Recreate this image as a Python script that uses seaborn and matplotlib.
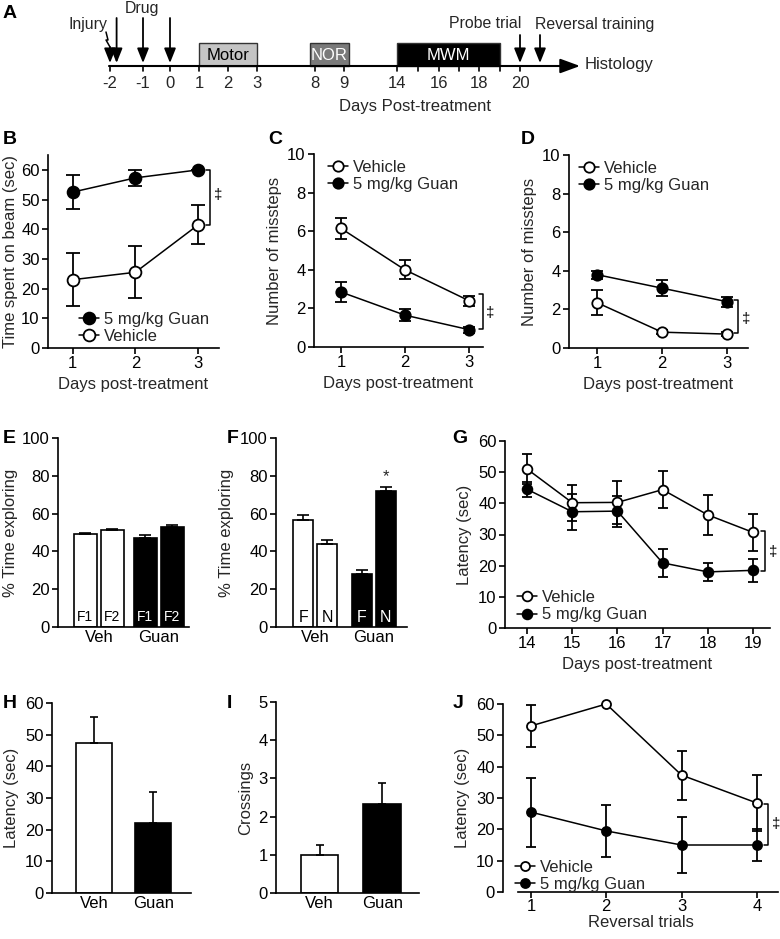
import numpy as np
import pandas as pd
import matplotlib
matplotlib.use("Agg")
import matplotlib.pyplot as plt
from matplotlib.patches import Rectangle
import seaborn as sns

# ---------------- data ----------------
# A: experimental timeline
tl_days = [-2, -1, 0, 1, 2, 3, 8, 9, 14, 16, 18, 20]
tl_labels = ["-2", "-1", "0", "1", "2", "3", "8", "9", "14", "16", "18", "20"]
tl_minor_days = [15, 17, 19]
phase_names = ["Motor", "NOR", "MWM"]
phase_start = [1, 8, 14]
phase_end = [3, 9, 19]
injury_days = [-2, -1.8]
drug_days = [-1, 0]
probe_day = 20
reversal_day = 21

# B: beam time
days_B = [1, 2, 3]
guan_B = [52.5, 57.3, 60.0]
guan_B_err = [5.8, 2.8, 0.0]
veh_B = [23.0, 25.5, 41.5]
veh_B_err = [9.0, 8.7, 6.5]

# C: missteps
days_C = [1, 2, 3]
veh_C = [6.15, 4.0, 2.4]
veh_C_err = [0.55, 0.5, 0.25]
guan_C = [2.85, 1.65, 0.9]
guan_C_err = [0.5, 0.3, 0.15]

# D: missteps
days_D = [1, 2, 3]
guan_D = [3.8, 3.1, 2.4]
guan_D_err = [0.2, 0.4, 0.25]
veh_D = [2.35, 0.82, 0.72]
veh_D_err = [0.65, 0.1, 0.1]

# E: NOR familiarisation
E_groups = ["Veh", "Veh", "Guan", "Guan"]
E_objects = ["F1", "F2", "F1", "F2"]
E_vals = [49.2, 51.2, 47.3, 53.0]
E_err = [0.6, 0.7, 1.3, 1.2]

# F: NOR test
F_groups = ["Veh", "Veh", "Guan", "Guan"]
F_objects = ["F", "N", "F", "N"]
F_vals = [56.5, 43.7, 28.3, 72.0]
F_err = [2.5, 2.3, 2.0, 2.0]

# G: MWM latency
days_G = [14, 15, 16, 17, 18, 19]
veh_G = [51.0, 40.2, 40.3, 44.4, 36.3, 30.7]
veh_G_err = [4.8, 5.8, 6.8, 6.0, 6.5, 6.0]
guan_G = [44.5, 37.3, 37.5, 20.9, 18.0, 18.5]
guan_G_err = [2.4, 5.8, 5.0, 4.4, 2.9, 3.6]

# H: probe latency
H_groups = ["Veh", "Guan"]
H_vals = [47.3, 22.0]
H_err = [8.3, 9.8]

# I: crossings
I_groups = ["Veh", "Guan"]
I_vals = [1.0, 2.33]
I_err = [0.25, 0.55]

# J: reversal
trials_J = [1, 2, 3, 4]
veh_J = [53.0, 60.0, 37.3, 28.4]
veh_J_err = [6.8, 0.0, 7.8, 9.0]
guan_J = [25.5, 19.5, 15.0, 15.0]
guan_J_err = [11.0, 8.4, 9.0, 5.0]

# ---------------- style ----------------
sns.set_theme(style="ticks")
plt.rcParams["font.family"] = ["Liberation Sans", "DejaVu Sans"]
plt.rcParams["axes.linewidth"] = 1.2
FS = 12
FSA = 11.4

W, H = 780, 939
fig = plt.figure(figsize=(W / 100, H / 100), dpi=100)
fig.patch.set_facecolor("white")


def ax_box(l, t, r, b):
    return fig.add_axes([l / W, 1 - b / H, (r - l) / W, (b - t) / H])


def style(ax):
    sns.despine(ax=ax)
    for s in ("left", "bottom"):
        ax.spines[s].set_linewidth(1.2)
        ax.spines[s].set_color("black")
    ax.tick_params(direction="out", length=4, width=1.2, labelsize=FS, pad=2,
                   color="black", labelcolor="black")
    ax.set_facecolor("white")
    ax.grid(False)


def line_panel(ax, x, series, ms, capsize):
    for label, y, err, filled in series:
        df = pd.DataFrame({"x": x, "y": y})
        ax.errorbar(x, y, yerr=err, fmt="none", ecolor="black", elinewidth=1.3,
                    capsize=capsize, capthick=1.3, zorder=2)
        sns.lineplot(data=df, x="x", y="y", ax=ax, color="black", linewidth=1.1,
                     marker="o", markersize=ms,
                     markerfacecolor="black" if filled else "white",
                     markeredgecolor="black", markeredgewidth=1.3,
                     label=label, zorder=3, errorbar=None, clip_on=False)


def legend(ax, loc, anchor):
    ax.legend(loc=loc, bbox_to_anchor=anchor, frameon=False, fontsize=FS,
              handlelength=1.2, handletextpad=0.3, borderpad=0, borderaxespad=0,
              labelspacing=0.15)


def bracket(ax, x, y1, y2, w, tx, ty):
    ax.plot([x - w, x, x, x - w], [y1, y1, y2, y2], color="black", lw=1.1,
            clip_on=False, zorder=4)
    ax.text(tx, ty, "\u2021", ha="center", va="center", fontsize=11,
            clip_on=False, color="black")


def grouped_bars(ax, groups, objs, vals, errs, width, gap, label_fs, label_y):
    df = pd.DataFrame({"group": groups, "obj": objs, "val": vals, "err": errs})
    g_order = list(dict.fromkeys(groups))
    o_order = list(dict.fromkeys(objs))
    sns.barplot(data=df, x="group", y="val", hue="obj", ax=ax, width=width, gap=gap,
                errorbar=None, legend=False, edgecolor="black", linewidth=1.2,
                palette=["white", "white"], saturation=1, order=g_order,
                hue_order=o_order)
    for p in list(ax.patches):
        c = p.get_x() + p.get_width() / 2
        gi = int(round(c))
        oi = 0 if c < gi else 1
        row = df[(df.group == g_order[gi]) & (df.obj == o_order[oi])].iloc[0]
        filled = g_order[gi] == "Guan"
        p.set_facecolor("black" if filled else "white")
        ax.errorbar(c, row.val, yerr=[[0], [row.err]], fmt="none", ecolor="black",
                    elinewidth=1.2, capsize=4, capthick=1.2, zorder=1)
        ax.text(c, label_y, row.obj, ha="center", va="bottom", fontsize=label_fs,
                color="white" if filled else "black")
    return df


def single_bars(ax, groups, vals, errs, width):
    df = pd.DataFrame({"group": groups, "val": vals, "err": errs})
    sns.barplot(data=df, x="group", y="val", hue="group", ax=ax, width=width,
                errorbar=None, legend=False, edgecolor="black", linewidth=1.2,
                palette=["white", "black"], saturation=1, order=groups,
                hue_order=groups)
    for p in list(ax.patches):
        c = p.get_x() + p.get_width() / 2
        gi = int(round(c))
        row = df.iloc[gi]
        ax.errorbar(c, row.val, yerr=[[0], [row.err]], fmt="none", ecolor="black",
                    elinewidth=1.2, capsize=3, capthick=1.2, zorder=1)


def panel_letter(x, y, s):
    fig.text(x / W, 1 - y / H, s, fontsize=14, fontweight="bold", ha="left",
             va="center", color="black")


# ---------------- A: timeline ----------------
# layout mapping of (broken) day axis to pixel positions
TL_DAY = [-2, -1, 0, 1, 2, 3, 8, 9, 14, 15, 16, 17, 18, 19, 20, 21]
TL_PX = [110, 143, 170, 199, 228, 257, 315, 344, 397, 418, 439, 459, 479, 500, 520, 540]


def dpx(d):
    return float(np.interp(d, TL_DAY, TL_PX))


axA = ax_box(0, 0, 780, 120)
axA.set_xlim(0, 780)
axA.set_ylim(120, 0)
axA.axis("off")
AXY = 66
axA.annotate("", xy=(580, AXY), xytext=(dpx(-2) - 1, AXY),
             arrowprops=dict(arrowstyle="-|>,head_length=0.6,head_width=0.22",
                             lw=1.5, color="black", mutation_scale=20,
                             shrinkA=0, shrinkB=0))
for d, lab in zip(tl_days, tl_labels):
    axA.plot([dpx(d), dpx(d)], [AXY, AXY + 5], color="black", lw=1.2)
    axA.text(dpx(d), 83, lab, ha="center", va="center", fontsize=FSA + 0.6)
for d in tl_minor_days:
    axA.plot([dpx(d), dpx(d)], [AXY, AXY + 5], color="black", lw=1.2)
box_fc = ["#c4c4c4", "#7a7a7a", "black"]
box_tc = ["black", "white", "white"]
box_pad = [0, 5, 0]
for name, s, e, fc, tc, pad in zip(phase_names, phase_start, phase_end, box_fc, box_tc, box_pad):
    x0, x1 = dpx(s) - pad, dpx(e) + pad
    axA.add_patch(Rectangle((x0, 43), x1 - x0, AXY - 43, facecolor=fc,
                            edgecolor="#333333", lw=1.0, zorder=2))
    axA.text((x0 + x1) / 2, 55, name, ha="center", va="center", fontsize=FSA + 0.6,
             color=tc, zorder=3)

arrow_kw = dict(arrowstyle="-|>,head_length=0.55,head_width=0.22", lw=1.3,
                color="black", mutation_scale=16, shrinkA=0, shrinkB=0)
# injury arrows (first with lightning symbol)
axA.annotate("", xy=(dpx(injury_days[0]), 63), xytext=(dpx(injury_days[0]), 47),
             arrowprops=arrow_kw)
zx = dpx(injury_days[0])
axA.plot([zx - 4, zx - 2, zx - 4, zx], [32, 40, 40, 47], color="black", lw=1.1)
axA.annotate("", xy=(dpx(injury_days[1]), 63), xytext=(dpx(injury_days[1]), 18),
             arrowprops=arrow_kw)
for d in drug_days:
    axA.annotate("", xy=(dpx(d), 63), xytext=(dpx(d), 18), arrowprops=arrow_kw)
for d in (probe_day, reversal_day):
    axA.annotate("", xy=(dpx(d), 63), xytext=(dpx(d), 35), arrowprops=arrow_kw)
axA.text(88, 25, "Injury", ha="center", va="center", fontsize=FSA)
axA.text(142, 8, "Drug", ha="center", va="center", fontsize=FSA)
axA.text(dpx(probe_day) - 35, 24, "Probe trial", ha="center", va="center", fontsize=FSA)
axA.text(dpx(reversal_day) + 55, 24, "Reversal training", ha="center", va="center", fontsize=FSA)
axA.text(585, AXY - 1, "Histology", ha="left", va="center", fontsize=FSA + 0.6)
axA.text(415, 107, "Days Post-treatment", ha="center", va="center", fontsize=FSA + 0.6)

# ---------------- B ----------------
axB = ax_box(48, 155, 219, 348)
line_panel(axB, days_B, [("5 mg/kg Guan", guan_B, guan_B_err, True),
                         ("Vehicle", veh_B, veh_B_err, False)], ms=8.5, capsize=5)
axB.set_xlim(0.61, 3.33)
axB.set_ylim(0, 65)
axB.set_yticks(range(0, 61, 10))
axB.set_xticks(days_B)
axB.set_xlabel("Days post-treatment", fontsize=FS)
axB.set_ylabel("Time spent on beam (sec)", fontsize=FS, labelpad=2)
style(axB)
legend(axB, "lower left", (0.18, 0.02))
bracket(axB, 3.19, guan_B[2], veh_B[2], 0.07, 3.31, 51.6)

# ---------------- C ----------------
axC = ax_box(314, 154, 483, 347)
line_panel(axC, days_C, [("Vehicle", veh_C, veh_C_err, False),
                         ("5 mg/kg Guan", guan_C, guan_C_err, True)], ms=7.5, capsize=4)
axC.set_xlim(0.58, 3.22)
axC.set_ylim(0, 10)
axC.set_yticks(range(0, 11, 2))
axC.set_xticks(days_C)
axC.set_xlabel("Days post-treatment", fontsize=FS)
axC.set_ylabel("Number of missteps", fontsize=FS)
style(axC)
legend(axC, "upper left", (0.083, 0.97))
bracket(axC, 3.22, 2.75, 0.93, 0.06, 3.34, 1.75)

# ---------------- D ----------------
axD = ax_box(569, 155, 748, 348)
line_panel(axD, days_D, [("Vehicle", veh_D, veh_D_err, False),
                         ("5 mg/kg Guan", guan_D, guan_D_err, True)], ms=7.5, capsize=4)
axD.set_xlim(0.57, 3.32)
axD.set_ylim(0, 10)
axD.set_yticks(range(0, 11, 2))
axD.set_xticks(days_D)
axD.set_xlabel("Days post-treatment", fontsize=FS)
axD.set_ylabel("Number of missteps", fontsize=FS)
style(axD)
legend(axD, "upper left", (0.056, 0.97))
bracket(axD, 3.17, 2.49, 0.78, 0.07, 3.29, 1.5)

# ---------------- E ----------------
axE = ax_box(58, 438, 189, 627)
grouped_bars(axE, E_groups, E_objects, E_vals, E_err, width=0.9, gap=0.155,
             label_fs=10, label_y=1.5)
axE.set_xlim(-0.68, 1.5)
axE.set_ylim(0, 100)
axE.set_yticks(range(0, 101, 20))
axE.set_xlabel("")
axE.set_ylabel("% Time exploring", fontsize=FS, labelpad=3)
style(axE)
axE.tick_params(axis="x", length=0)

# ---------------- F ----------------
axF = ax_box(276, 438, 407, 627)
grouped_bars(axF, F_groups, F_objects, F_vals, F_err, width=0.82, gap=0.17,
             label_fs=11.5, label_y=1.0)
axF.text(1.205, F_vals[3] + F_err[3] + 1.5, "*", ha="center", va="bottom", fontsize=12)
axF.set_xlim(-0.67, 1.57)
axF.set_ylim(0, 100)
axF.set_yticks(range(0, 101, 20))
axF.set_xlabel("")
axF.set_ylabel("% Time exploring", fontsize=FS)
style(axF)
axF.tick_params(axis="x", length=0)

# ---------------- G ----------------
axG = ax_box(505, 441, 770, 628)
line_panel(axG, days_G, [("Vehicle", veh_G, veh_G_err, False),
                         ("5 mg/kg Guan", guan_G, guan_G_err, True)], ms=7, capsize=3.3)
axG.set_xlim(13.51, 19.38)
axG.set_ylim(0, 60)
axG.set_yticks(range(0, 61, 10))
axG.set_xticks(days_G)
axG.set_xlabel("Days post-treatment", fontsize=FS)
axG.set_ylabel("Latency (sec)", fontsize=FS)
style(axG)
legend(axG, "lower left", (0.045, 0.03))
bracket(axG, 19.27, 31.1, 18.4, 0.1, 19.45, 24.4)

# ---------------- H ----------------
axH = ax_box(52, 703, 191, 893)
single_bars(axH, H_groups, H_vals, H_err, width=0.61)
axH.set_xlim(-0.72, 1.64)
axH.set_ylim(0, 60)
axH.set_yticks(range(0, 61, 10))
axH.set_xlabel("")
axH.set_ylabel("Latency (sec)", fontsize=FS)
style(axH)
axH.tick_params(axis="x", length=0)

# ---------------- I ----------------
axI = ax_box(276, 702, 419, 893)
single_bars(axI, I_groups, I_vals, I_err, width=0.6)
axI.set_xlim(-0.7, 1.59)
axI.set_ylim(0, 5)
axI.set_yticks(range(0, 6))
axI.set_xlabel("")
axI.set_ylabel("Crossings", fontsize=FS)
style(axI)
axI.tick_params(axis="x", length=0)

# ---------------- J ----------------
axJ = ax_box(503, 704, 778, 892)
line_panel(axJ, trials_J, [("Vehicle", veh_J, veh_J_err, False),
                           ("5 mg/kg Guan", guan_J, guan_J_err, True)], ms=6.5, capsize=3.3)
axJ.set_xlim(0.63, 4.28)
axJ.set_ylim(0, 60)
axJ.set_yticks(range(0, 61, 10))
axJ.set_xticks(trials_J)
axJ.set_xlabel("Reversal trials", fontsize=FS, labelpad=1)
axJ.set_ylabel("Latency (sec)", fontsize=FS)
style(axJ)
axJ.tick_params(axis="x", pad=1)
axJ.spines["bottom"].set_bounds(0.83, 4.28)
legend(axJ, "lower left", (0.044, 0.0))
bracket(axJ, 4.15, 28.0, 15.1, 0.06, 4.25, 21.7)

# ---------------- panel letters ----------------
panel_letter(3, 13, "A")
panel_letter(3, 140, "B")
panel_letter(268, 140, "C")
panel_letter(521, 140, "D")
panel_letter(3, 438, "E")
panel_letter(227, 438, "F")
panel_letter(452, 438, "G")
panel_letter(3, 704, "H")
panel_letter(227, 704, "I")
panel_letter(453, 704, "J")

fig.savefig("out.png", dpi=100, facecolor="white")
